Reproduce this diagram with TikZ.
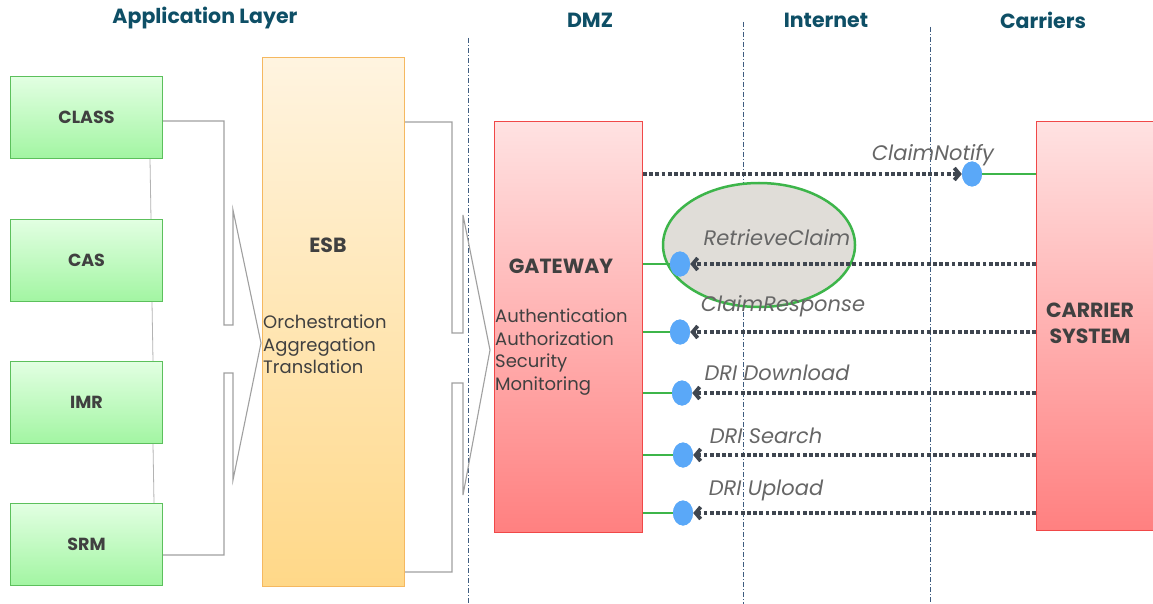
\documentclass[tikz,border=0pt]{standalone}
\usepackage{fontspec}
\setmainfont{Poppins}
\usetikzlibrary{arrows.meta,calc,shapes.geometric}
\definecolor{titlec}{HTML}{0E4F66}
\definecolor{boxtxt}{HTML}{404040}
\definecolor{labtxt}{HTML}{666666}
\definecolor{grnA}{HTML}{E2FFE2}
\definecolor{grnB}{HTML}{A2F5A2}
\definecolor{grnE}{HTML}{5CC05C}
\definecolor{orA}{HTML}{FFF4E0}
\definecolor{orB}{HTML}{FFD888}
\definecolor{orE}{HTML}{F5B860}
\definecolor{rdA}{HTML}{FFE2E2}
\definecolor{rdB}{HTML}{FF8080}
\definecolor{rdE}{HTML}{F04848}
\definecolor{brkc}{HTML}{A0A0A0}
\definecolor{dotc}{HTML}{3F4650}
\definecolor{linkg}{HTML}{3DB54A}
\definecolor{bluedot}{HTML}{5AA8F8}
\definecolor{sepc}{HTML}{3E5C80}
\definecolor{ellf}{HTML}{E0DDD8}
\begin{document}
\begin{tikzpicture}[x=1pt,y=-1pt,
  title/.style={text=titlec,font=\fontsize{20.5}{24}\selectfont\bfseries},
  appbox/.style={draw=grnE,line width=1pt,top color=grnA,bottom color=grnB,anchor=north west,
    minimum width=152pt,minimum height=82pt,inner sep=0pt,text=boxtxt,font=\fontsize{17.5}{20}\selectfont\bfseries},
  bigtxt/.style={text=boxtxt,font=\fontsize{20.5}{26}\selectfont\bfseries,align=center},
  bodytxt/.style={text=boxtxt,font=\fontsize{18}{22.5}\selectfont,align=left,inner sep=0pt},
  lab/.style={text=labtxt,font=\fontsize{21}{24}\selectfont\itshape},
  sep/.style={draw=sepc,line width=0.8pt,dash pattern=on 5pt off 2pt on 1pt off 2pt},
  brk/.style={draw=brkc,line width=1.1pt},
  thinc/.style={draw=brkc!80,line width=0.8pt},
  dotline/.style={draw=dotc,line width=3.8pt,dash pattern=on 3.8pt off 2.4pt},
  tip/.style={-{Straight Barb[length=5pt,width=12pt]}},
  glink/.style={draw=linkg,line width=2.5pt},
  bdot/.style={fill=bluedot,ellipse,minimum width=20pt,minimum height=25pt,inner sep=0pt}
]
\clip (0,0) rectangle (1153,604);
\fill[white] (0,0) rectangle (1153,604);

% titles
\node[title] (tApp) at (205,18) {Application Layer};
\node[title] (tDMZ) at (590,20) {DMZ};
\node[title] (tNet) at (826,20) {Internet};
\node[title] (tCar) at (1043,20) {Carriers};

% separators
\coordinate (s1t) at (468,38);  \coordinate (s1b) at (468,604);
\coordinate (s2t) at (743,22);  \coordinate (s2b) at (743,604);
\coordinate (s3t) at (930,27);  \coordinate (s3b) at (930,604);
\draw[sep] (s1t) -- (s1b);
\draw[sep] (s2t) -- (s2b);
\draw[sep] (s3t) -- (s3b);

% application boxes
\node[appbox] (class) at (10,76) {CLASS};
\node[appbox] (cas) at (10,219) {CAS};
\node[appbox] (imr) at (10,361) {IMR};
\node[appbox] (srm) at (10,503) {SRM};
\draw[thinc] ($(class.south east)+(-13,0)$) -- ($(cas.north east)+(-12,0)$);
\draw[thinc] ($(cas.south east)+(-11,0)$) -- ($(imr.north east)+(-10,0)$);
\draw[thinc] ($(imr.south east)+(-10,0)$) -- ($(srm.north east)+(-9,0)$);

% ESB
\node[draw=orE,line width=1pt,top color=orA,bottom color=orB,anchor=north west,
  minimum width=142pt,minimum height=529pt,inner sep=0pt] (esb) at (262,57) {};
\node[bigtxt] (esbT) at (328,245) {ESB};
\node[bodytxt,anchor=north west] (esbB) at (263,315) {Orchestration\\Aggregation\\Translation};

% gateway
\node[draw=rdE,line width=1pt,top color=rdA,bottom color=rdB,anchor=north west,
  minimum width=148pt,minimum height=411pt,inner sep=0pt] (gw) at (494,121) {};
\node[bigtxt] (gwT) at (561,266) {GATEWAY};
\node[bodytxt,anchor=north west] (gwB) at (495,309) {Authentication\\Authorization\\Security\\Monitoring};

% carrier
\node[draw=rdE,line width=1pt,top color=rdA,bottom color=rdB,anchor=north west,
  minimum width=125pt,minimum height=409pt,inner sep=0pt] (car) at (1036,121) {};
\node[bigtxt] (carT) at (1090,323) {CARRIER\\SYSTEM};

% brackets
\draw[brk] (class.east |- 0,121) -| (224,325) -- (233,325) -- (233,210) -- (261,343)
   -- (233,480) -- (233,373) -- (224,373) |- (srm.east |- 0,555);
\draw[brk] (esb.east |- 0,122) -| (452,333) -- (463,333) -- (463,215) -- (490,350)
   -- (463,495) -- (463,383) -- (452,383) |- (esb.east |- 0,572);

% ellipse highlight
\node[draw=linkg,line width=2.5pt,fill=ellf,ellipse,minimum width=192pt,minimum height=124pt] (hl) at (759,245) {};

% dots
\node[bdot] (d1) at (972,174) {};
\node[bdot] (d2) at (680,264) {};
\node[bdot] (d3) at (680,332) {};
\node[bdot] (d4) at (682,393) {};
\node[bdot] (d5) at (683,455) {};
\node[bdot] (d6) at (683,513) {};

% connectors
\draw[dotline,tip] (gw.east |- d1) -- (d1.west);
\draw[glink] (d1.east) -- (car.west |- d1);
\foreach \d in {d2,d3,d4,d5,d6}{
  \draw[glink] (gw.east |- \d) -- (\d.west);
  \draw[dotline,tip] (car.west |- \d) -- (\d.east);
}
\foreach \d in {d1,d2,d3,d4,d5,d6}{ \node[bdot] at (\d) {}; }

% labels
\node[lab] (l1) at (933,155) {ClaimNotify};
\node[lab] (l2) at (777,238) {RetrieveClaim};
\node[lab] (l3) at (783,306) {ClaimResponse};
\node[lab] (l4) at (777,373) {DRI Download};
\node[lab] (l5) at (766,436) {DRI Search};
\node[lab] (l6) at (766,490) {DRI Upload};
\end{tikzpicture}
\end{document}
